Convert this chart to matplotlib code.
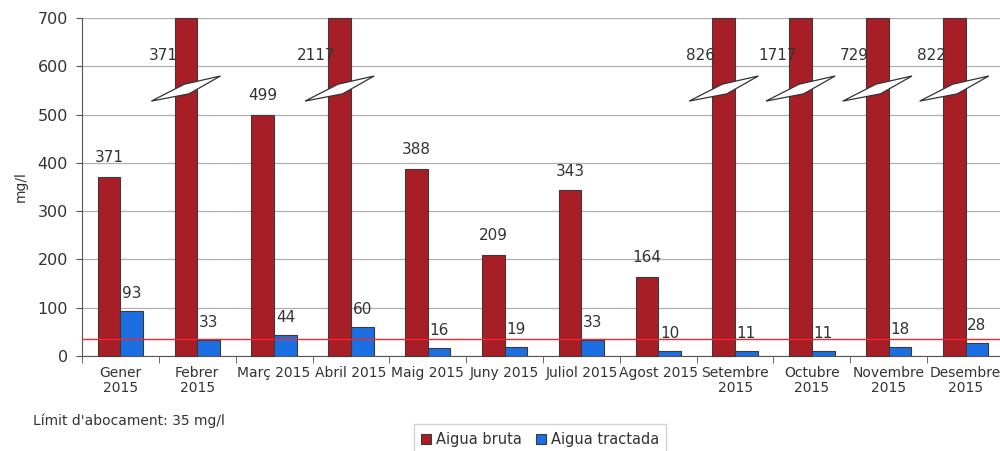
import matplotlib.pyplot as plt
import numpy as np
from matplotlib.patches import Polygon

plt.rcParams['font.family'] = 'DejaVu Sans'

months = ['Gener\n2015', 'Febrer\n2015', 'Març 2015', 'Abril 2015', 'Maig 2015',
          'Juny 2015', 'Juliol 2015', 'Agost 2015', 'Setembre\n2015',
          'Octubre\n2015', 'Novembre\n2015', 'Desembre\n2015']
bruta = [371, 371, 499, 2117, 388, 209, 343, 164, 826, 1717, 729, 822]
tractada = [93, 33, 44, 60, 16, 19, 33, 10, 11, 11, 18, 28]
# bars that run off the top of the scale get a break mark
broken = [False, True, False, True, False, False, False, False, True, True, True, True]
limit = 35
ymax = 700

red = '#A81E26'
blue = '#1C6FE3'
txt = '#333333'

fig = plt.figure(figsize=(10, 4.51), dpi=100)
ax = fig.add_axes([0.082, 0.2106, 0.922, 0.7494])

x = np.arange(len(months))
w = 0.295
hb = [ymax if b else v for v, b in zip(bruta, broken)]
ax.bar(x - w / 2, hb, w, color=red, edgecolor='#3a3a3a', linewidth=0.8,
       label='Aigua bruta', zorder=3, clip_on=False)
ax.bar(x + w / 2, tractada, w, color=blue, edgecolor='#3a3a3a', linewidth=0.8,
       label='Aigua tractada', zorder=3)

ax.axhline(limit, color='#F0282E', linewidth=1.0, zorder=4)

for i in range(len(months)):
    xc = i - w / 2
    if broken[i]:
        pts = [(xc - 0.45, 528), (xc - 0.02, 563), (xc + 0.45, 580), (xc + 0.04, 543)]
        ax.add_patch(Polygon(pts, closed=True, facecolor='white',
                             edgecolor='#333333', linewidth=0.9, zorder=5))
        ax.text(xc - 0.3, 622, str(bruta[i]), ha='center', va='center',
                fontsize=11, color=txt, zorder=6)
    else:
        ax.text(xc, bruta[i] + 40, str(bruta[i]), ha='center', va='center',
                fontsize=11, color=txt, zorder=6)
    ax.text(i + w / 2, tractada[i] + 36, str(tractada[i]), ha='center', va='center',
            fontsize=11, color=txt, zorder=6)

ax.set_xlim(-0.5, len(months) - 0.5)
ax.set_ylim(0, ymax)
ax.set_yticks(range(0, ymax + 1, 100))
ax.yaxis.grid(True, color='#b0b0b0', linewidth=0.9, zorder=0)
ax.set_axisbelow(True)

ax.set_xticks(x)
ax.set_xticklabels(months, fontsize=10, color=txt, linespacing=1.15, va='top')
ax.set_xticks(np.arange(-0.5, len(months)), minor=True)
ax.tick_params(axis='x', which='major', length=0, pad=7)
ax.tick_params(axis='x', which='minor', length=5, color='#555555')
ax.tick_params(axis='y', length=4, color='#555555', labelsize=11.5,
               labelcolor=txt, pad=6)

for s in ['top', 'right']:
    ax.spines[s].set_visible(False)
ax.spines['left'].set_color('#555555')
ax.spines['bottom'].set_color('#555555')

ax.set_ylabel('mg/l', fontsize=10, color=txt, labelpad=7)

fig.text(0.033, 0.068, "Límit d'abocament: 35 mg/l", fontsize=10,
         color=txt, va='center')

fig.legend(loc='upper center', bbox_to_anchor=(0.54, 0.075), ncol=2,
           fontsize=10.5, frameon=True, fancybox=False, edgecolor='#c8c8c8',
           handlelength=0.7, handleheight=0.7, handletextpad=0.3,
           columnspacing=1.0, borderpad=0.5, labelcolor=txt)

fig.savefig('out.png', dpi=100)
